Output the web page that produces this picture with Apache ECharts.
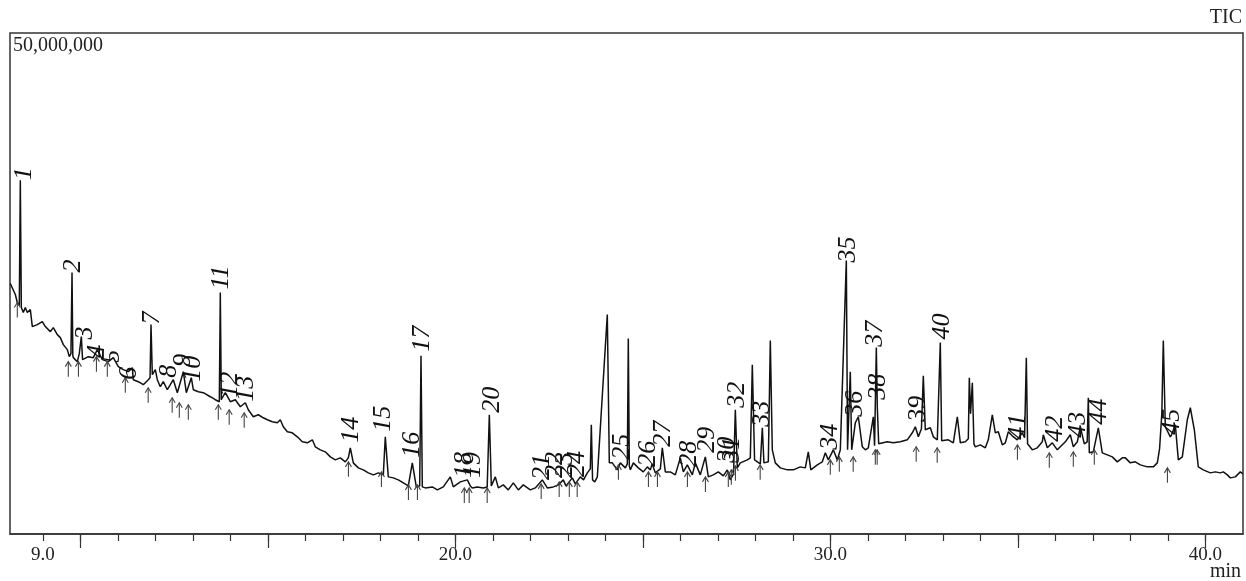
<!DOCTYPE html>
<html><head><meta charset="utf-8">
<script src="https://cdn.jsdelivr.net/npm/echarts@6/dist/echarts.min.js"></script>
<style>html,body{margin:0;padding:0;background:#fff}#c{width:1246px;height:581px}</style>
</head><body><div id="c"></div>
<script>
// TIC trace: [retention time (min), intensity (millions of counts)]
const tracePoints = [
[8.133,25.0],[8.267,23.9],[8.32,23.1],[8.373,22.8],[8.40,35.3],[8.427,22.6],[8.48,22.1],[8.533,22.6],[8.587,22.1],[8.667,22.4],
[8.72,20.7],[8.853,20.9],[8.987,21.2],[9.067,20.7],[9.2,20.2],[9.28,20.6],[9.387,19.9],[9.467,19.6],[9.547,18.9],[9.653,18.4],
[9.707,17.7],[9.75,18.0],[9.779,26.1],[9.80,17.8],[9.813,17.6],[9.92,17.2],[9.973,18.0],[10.027,19.7],[10.06,17.4],[10.08,17.4],
[10.213,17.7],[10.347,17.6],[10.453,18.4],[10.587,17.4],[10.747,17.2],[10.88,17.6],[11.013,16.7],[11.147,16.4],[11.28,16.2],[11.387,16.6],
[11.413,15.4],[11.547,15.2],[11.68,14.9],[11.813,15.4],[11.86,15.6],[11.885,20.9],[11.92,15.9],[12.0,16.4],[12.053,15.4],[12.133,14.7],
[12.213,15.2],[12.32,14.4],[12.4,14.9],[12.48,15.4],[12.587,14.1],[12.747,16.2],[12.827,14.1],[12.96,15.6],[13.013,14.4],[13.147,14.2],
[13.28,14.1],[13.467,13.7],[13.6,13.4],[13.707,13.2],[13.733,24.1],[13.76,13.4],[13.787,13.6],[13.867,14.1],[14.0,13.2],[14.133,13.4],
[14.267,12.7],[14.4,13.1],[14.48,12.4],[14.613,11.7],[14.747,11.9],[14.88,11.6],[14.987,11.4],[15.12,11.2],[15.253,11.1],[15.333,11.4],
[15.413,10.7],[15.52,10.2],[15.653,10.1],[15.787,9.7],[15.92,9.2],[16.053,9.1],[16.187,9.4],[16.267,8.7],[16.4,8.4],[16.533,8.2],
[16.667,7.7],[16.8,7.4],[16.933,7.6],[17.067,7.2],[17.147,7.6],[17.2,8.6],[17.28,7.1],[17.413,6.6],[17.547,6.4],[17.68,6.1],
[17.813,5.9],[17.947,6.1],[18.08,5.9],[18.133,9.7],[18.213,5.7],[18.347,5.6],[18.48,5.4],[18.613,5.1],[18.747,4.8],[18.853,7.1],
[18.96,4.7],[19.05,4.8],[19.085,17.8],[19.12,4.7],[19.2,4.6],[19.387,4.7],[19.52,4.4],[19.68,4.7],[19.867,5.7],[19.947,4.7],
[20.133,5.2],[20.32,5.4],[20.40,4.8],[20.453,4.6],[20.587,4.7],[20.747,4.6],[20.85,4.7],[20.907,11.9],[20.96,4.8],[21.067,5.7],
[21.147,4.6],[21.28,4.9],[21.413,4.4],[21.547,5.1],[21.68,4.4],[21.813,4.9],[22.0,4.4],[22.133,4.6],[22.32,5.4],[22.453,4.6],
[22.613,4.7],[22.747,4.9],[22.88,5.4],[22.95,4.8],[23.12,5.6],[23.2,5.0],[23.333,5.7],[23.42,5.4],[23.52,6.1],[23.6,6.5],
[23.627,10.9],[23.66,5.4],[23.72,5.2],[23.787,5.7],[24.053,21.9],[24.107,7.1],[24.187,7.1],[24.32,6.4],[24.4,7.1],[24.533,6.6],
[24.587,7.0],[24.613,19.5],[24.64,6.8],[24.667,6.4],[24.747,7.1],[24.88,6.6],[25.013,6.2],[25.12,6.7],[25.2,6.4],[25.25,7.0],
[25.333,6.1],[25.467,6.5],[25.52,8.6],[25.6,6.2],[25.733,6.2],[25.867,5.9],[26.0,7.6],[26.08,6.2],[26.187,6.9],[26.32,5.9],
[26.4,7.1],[26.533,5.9],[26.667,7.7],[26.747,5.7],[26.88,5.9],[27.013,6.2],[27.147,5.8],[27.253,6.4],[27.333,5.4],[27.42,6.0],
[27.467,12.4],[27.52,6.6],[27.6,7.1],[27.787,7.4],[27.867,7.6],[27.92,16.9],[27.98,7.4],[28.0,7.4],[28.133,7.0],[28.187,10.6],
[28.23,7.1],[28.267,7.1],[28.347,7.2],[28.4,19.3],[28.453,8.4],[28.533,7.1],[28.667,6.6],[28.853,6.4],[29.013,6.4],[29.2,6.7],
[29.333,6.6],[29.413,8.2],[29.48,6.4],[29.52,6.4],[29.653,6.9],[29.787,7.2],[29.867,8.1],[29.947,7.4],[30.08,8.4],[30.187,7.4],
[30.267,8.4],[30.427,27.3],[30.46,8.4],[30.51,8.5],[30.533,16.2],[30.57,8.4],[30.613,8.4],[30.667,11.1],[30.747,11.7],[30.853,8.7],
[30.933,8.4],[31.013,8.6],[31.147,11.7],[31.18,8.8],[31.227,18.6],[31.253,12.7],[31.29,9.0],[31.333,9.1],[31.52,9.2],[31.68,9.1],
[31.867,9.2],[32.053,9.4],[32.187,10.1],[32.267,10.7],[32.347,9.7],[32.43,10.5],[32.48,15.8],[32.533,10.4],[32.667,10.6],[32.747,9.7],
[32.853,9.4],[32.9,9.3],[32.933,19.1],[32.97,9.3],[33.013,9.2],[33.147,9.4],[33.28,9.1],[33.387,11.7],[33.467,9.1],[33.6,9.2],
[33.68,9.5],[33.707,15.6],[33.74,12.0],[33.787,15.1],[33.83,9.0],[33.867,8.7],[34.0,8.9],[34.133,8.6],[34.213,9.4],[34.32,11.9],
[34.4,10.1],[34.48,10.2],[34.587,8.9],[34.667,9.1],[34.747,10.2],[34.85,9.8],[34.987,9.4],[35.12,10.1],[35.18,9.6],[35.227,17.6],
[35.26,9.0],[35.28,8.9],[35.387,8.4],[35.52,8.6],[35.653,9.2],[35.68,9.9],[35.787,8.6],[35.92,9.1],[36.053,8.4],[36.187,8.9],
[36.267,9.2],[36.4,9.9],[36.48,8.7],[36.587,9.2],[36.667,10.7],[36.773,9.0],[36.85,9.2],[36.88,13.6],[36.907,8.1],[37.013,8.2],
[37.147,10.6],[37.253,8.1],[37.387,7.9],[37.52,7.7],[37.653,7.2],[37.787,7.6],[37.867,7.6],[38.0,7.1],[38.133,7.2],[38.267,6.9],
[38.453,6.7],[38.613,6.7],[38.72,7.1],[38.78,8.5],[38.84,12.0],[38.88,19.3],[38.933,10.7],[39.067,9.7],[39.1,9.9],[39.2,10.9],
[39.28,7.4],[39.387,7.7],[39.52,11.4],[39.6,12.6],[39.707,10.4],[39.813,6.7],[39.947,6.4],[40.133,6.1],[40.267,6.2],[40.4,6.1],
[40.48,6.2],[40.587,5.9],[40.667,5.6],[40.8,5.7],[40.933,6.2],[41.0,6.0]
];
// peak number labels: [peak no., time, intensity at label start]
const peakLabels = [
[1,8.5,35.3],[2,9.81,26.1],[3,10.13,19.4],[4,10.45,17.6],[5,10.85,17.1],[6,11.31,15.4],[7,11.91,20.9],[8,12.36,15.6],
[9,12.75,16.7],[10,13.01,15.2],[11,13.76,24.4],[12,14.0,13.6],[13,14.43,13.2],[14,17.23,9.1],[15,18.07,10.2],[16,18.85,7.6],
[17,19.12,18.2],[18,20.24,5.6],[19,20.48,5.6],[20,20.99,12.1],[21,22.32,5.4],[22,22.67,5.6],[23,22.93,5.6],[24,23.25,5.7],
[25,24.45,7.4],[26,25.15,6.7],[27,25.55,8.7],[28,26.24,6.7],[29,26.72,8.1],[30,27.26,7.1],[31,27.38,7.1],[32,27.52,12.6],
[33,28.19,10.7],[34,30.0,8.4],[35,30.47,27.1],[36,30.67,11.7],[37,31.2,18.7],[38,31.28,13.4],[39,32.35,11.2],[40,32.99,19.4],
[41,35.01,9.4],[42,36.0,9.2],[43,36.61,9.6],[44,37.17,10.9],[45,39.12,9.9]
];
// peak markers (arrow tips): [time, intensity]
const peakArrows = [
[8.32,23.1],[9.68,17.2],[9.95,17.2],[10.43,17.7],[10.72,17.2],[11.2,15.6],[11.81,14.6],[12.45,13.6],[12.64,13.1],[12.88,12.9],
[13.68,12.9],[13.97,12.4],[14.37,12.1],[17.15,7.2],[18.03,6.2],[18.75,4.9],[18.99,4.9],[20.24,4.6],[20.37,4.6],[20.85,4.6],
[22.29,5.0],[22.77,5.2],[23.04,5.2],[23.25,5.2],[24.35,6.9],[25.15,6.2],[25.39,6.2],[26.19,6.2],[26.67,5.7],[27.28,6.2],
[27.36,6.4],[27.47,6.8],[28.13,6.9],[30.0,7.4],[30.24,7.7],[30.61,7.7],[31.2,8.4],[31.25,8.4],[32.29,8.7],[32.85,8.6],
[34.99,8.9],[35.84,8.1],[36.48,8.2],[37.04,8.4],[38.99,6.6]
];
const xLabelValues = [9, 20, 30, 40];
const xMajorTicks = [10, 15, 20, 25, 30, 35, 40];
const xMinorTicks = [9,10,11,12,13,14,15,16,17,18,19,20,21,22,23,24,25,26,27,28,29,30,31,32,33,34,35,36,37,38,39,40];
const yLabelValues = [50];
const yLabelTexts = ['50,000,000'];
const xMin = 8.125, xMax = 41.005, yMin = 0, yMax = 50;

const serif = '"Liberation Serif", "Times New Roman", serif';
const chart = echarts.init(document.getElementById('c'));

function arrowRender(params, api) {
  const p = api.coord([api.value(0), api.value(1)]);
  const x = p[0], y = p[1];
  return {type: 'group', children: [
    {type: 'line', shape: {x1: x, y1: y, x2: x, y2: y + 15}, style: {stroke: '#444', lineWidth: 1.1}},
    {type: 'polyline', shape: {points: [[x - 3, y + 5], [x, y], [x + 3, y + 5]]}, style: {stroke: '#444', fill: null, lineWidth: 1.1}}
  ]};
}
function labelRender(params, api) {
  const p = api.coord([api.value(0), api.value(1)]);
  return {type: 'text', x: p[0], y: p[1], rotation: Math.PI / 2,
    style: {text: String(api.value(2)), font: 'italic 26px ' + serif, fill: '#111', align: 'left', verticalAlign: 'middle'}};
}

chart.setOption({
  animation: false,
  grid: {left: 10, right: 3, top: 33, bottom: 47, show: true, borderColor: '#333', borderWidth: 1.5, backgroundColor: 'transparent'},
  xAxis: [
    {type: 'value', min: xMin, max: xMax, position: 'bottom',
     axisLine: {show: true, onZero: false, lineStyle: {color: '#333', width: 1.5}},
     axisTick: {show: true, customValues: xMajorTicks, length: 14, lineStyle: {color: '#333', width: 1.2}},
     axisLabel: {show: true, customValues: xLabelValues, formatter: v => v.toFixed(1), fontFamily: serif, fontSize: 19, color: '#222', margin: 12},
     splitLine: {show: false}},
    {type: 'value', min: xMin, max: xMax, position: 'bottom',
     axisLine: {show: false, onZero: false},
     axisTick: {show: true, customValues: xMinorTicks, length: 7, lineStyle: {color: '#333', width: 1.2}},
     axisLabel: {show: false}, splitLine: {show: false}}
  ],
  yAxis: {type: 'value', min: yMin, max: yMax,
    axisLine: {show: false}, axisTick: {show: false}, splitLine: {show: false},
    axisLabel: {show: true, inside: true, customValues: yLabelValues,
      formatter: v => yLabelTexts[yLabelValues.indexOf(v)], verticalAlign: 'top',
      fontFamily: serif, fontSize: 20, color: '#222', margin: 3, padding: [3, 0, 0, 0]}},
  series: [
    {type: 'line', data: tracePoints, xAxisIndex: 0, showSymbol: false, symbol: 'none',
     lineStyle: {color: '#111', width: 1.5}, z: 2},
    {type: 'custom', data: peakArrows, xAxisIndex: 0, renderItem: arrowRender, z: 3},
    {type: 'custom', data: peakLabels.map(d => [d[1], d[2], d[0]]), xAxisIndex: 0, renderItem: labelRender, z: 4}
  ],
  graphic: [
    {type: 'text', right: 4, top: 8, style: {text: 'TIC', font: '20px ' + serif, fill: '#222'}},
    {type: 'text', right: 5, top: 562, style: {text: 'min', font: '20px ' + serif, fill: '#222'}}
  ]
});
</script>
</body></html>
